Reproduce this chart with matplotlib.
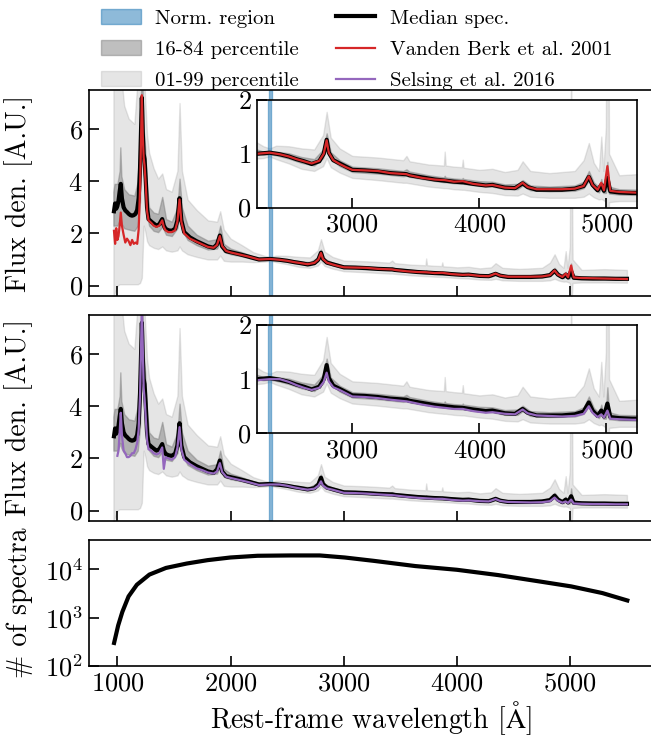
import numpy as np
import matplotlib
matplotlib.use("Agg")
import matplotlib.pyplot as plt

plt.rcParams['font.family'] = ['cmr10', 'DejaVu Serif']
plt.rcParams['mathtext.fontset'] = 'cm'
plt.rcParams['axes.formatter.use_mathtext'] = True
plt.rcParams['axes.unicode_minus'] = False

# ---------------- data ----------------
# median composite spectrum and literature composites (normalised at 2350 A)
wave = [970, 980, 990, 1000, 1010, 1020, 1030, 1040, 1055, 1070, 1085, 1100, 1115, 1130,
        1145, 1160, 1175, 1188, 1200, 1208, 1216, 1224, 1232, 1240, 1250, 1262, 1275,
        1300, 1320, 1345, 1370, 1396, 1410, 1425, 1450, 1480, 1510, 1530, 1549, 1565,
        1590, 1640, 1700, 1750, 1800, 1850, 1880, 1905, 1925, 1960, 2000, 2080, 2150,
        2250, 2350, 2430, 2500, 2560, 2620, 2680, 2740, 2775, 2798, 2815, 2850, 2900,
        2950, 3000, 3100, 3200, 3300, 3426, 3450, 3550, 3650, 3727, 3800, 3869, 3950,
        4050, 4102, 4200, 4280, 4340, 4380, 4450, 4550, 4650, 4750, 4820, 4861, 4890,
        4930, 4959, 4980, 5007, 5030, 5100, 5200, 5300, 5400, 5500]
median_flux = [2.85, 3.15, 2.95, 3.05, 3.25, 3.6, 3.9, 3.35, 3.0, 2.88, 2.82, 2.75, 2.7, 2.68,
               2.7, 2.75, 2.9, 3.35, 4.5, 5.8, 7.2, 5.9, 5.05, 4.85, 4.1, 3.0, 2.55,
               2.45, 2.38, 2.3, 2.35, 2.55, 2.3, 2.18, 2.12, 2.1, 2.18, 2.5, 3.35, 2.5,
               2.05, 1.85, 1.7, 1.6, 1.5, 1.45, 1.58, 1.92, 1.5, 1.32, 1.28, 1.2, 1.12,
               1.0, 1.02, 0.99, 0.95, 0.9, 0.86, 0.81, 0.86, 1.0, 1.26, 1.02, 0.88, 0.82,
               0.76, 0.7, 0.69, 0.67, 0.64, 0.62, 0.6, 0.56, 0.52, 0.5, 0.48, 0.47, 0.44,
               0.41, 0.42, 0.37, 0.36, 0.45, 0.38, 0.33, 0.33, 0.33, 0.35, 0.4, 0.57, 0.42,
               0.32, 0.42, 0.31, 0.55, 0.3, 0.28, 0.27, 0.27, 0.26, 0.26]
vandenberk_flux = [2.1, 1.6, 2.2, 1.75, 1.9, 2.3, 2.8, 2.3, 1.95, 1.65, 1.8, 1.7, 1.55, 1.75,
                   1.6, 1.65, 1.6, 2.15, 3.7, 5.4, 7.3, 5.8, 4.9, 4.6, 3.9, 2.85, 2.5,
                   2.4, 2.3, 2.25, 2.3, 2.5, 2.25, 2.12, 2.05, 2.05, 2.12, 2.45, 3.3, 2.45,
                   2.0, 1.8, 1.68, 1.58, 1.48, 1.45, 1.56, 1.9, 1.52, 1.33, 1.27, 1.19, 1.12,
                   1.0, 1.02, 0.99, 0.95, 0.9, 0.86, 0.82, 0.87, 1.0, 1.25, 1.02, 0.88, 0.81,
                   0.75, 0.7, 0.69, 0.68, 0.64, 0.62, 0.6, 0.55, 0.52, 0.51, 0.48, 0.49, 0.44,
                   0.41, 0.42, 0.37, 0.36, 0.46, 0.38, 0.34, 0.34, 0.34, 0.35, 0.4, 0.58, 0.42,
                   0.33, 0.46, 0.32, 0.77, 0.31, 0.29, 0.28, 0.27, 0.26, 0.25]
selsing_flux = [np.nan, np.nan, np.nan, 2.1, 2.3, 3.0, 3.75, 2.9, 2.3, 2.2, 2.05, 2.05, 2.1, 2.2,
                2.2, 2.35, 2.6, 3.1, 4.4, 6.0, 7.9, 6.3, 4.7, 4.3, 3.6, 2.7, 2.35,
                2.3, 2.2, 2.15, 2.2, 2.42, 1.6, 2.05, 2.0, 1.95, 2.05, 2.4, 3.2, 2.35,
                1.95, 1.78, 1.62, 1.55, 1.46, 1.42, 1.5, 1.82, 1.48, 1.3, 1.25, 1.17, 1.1,
                0.98, 1.0, 1.0, 0.95, 0.89, 0.84, 0.8, 0.84, 0.95, 1.12, 0.96, 0.85, 0.8,
                0.74, 0.68, 0.67, 0.65, 0.62, 0.59, 0.58, 0.53, 0.49, 0.47, 0.45, 0.45, 0.41,
                0.38, 0.39, 0.36, 0.35, 0.44, 0.37, 0.33, 0.32, 0.31, 0.32, 0.36, 0.5, 0.38,
                0.3, 0.35, 0.29, 0.42, 0.27, 0.26, 0.25, 0.25, 0.24, 0.24]

# percentile envelopes of the stacked spectra
band_wave = [965, 975, 1000, 1020, 1026, 1035, 1060, 1100, 1150, 1180, 1200, 1216, 1232,
             1245, 1262, 1280, 1320, 1360, 1396, 1430, 1480, 1530, 1549, 1570, 1620, 1700,
             1800, 1880, 1908, 1940, 2000, 2100, 2200, 2300, 2350, 2400, 2500, 2600, 2700,
             2770, 2798, 2830, 2900, 3000, 3200, 3400, 3426, 3450, 3600, 3720, 3727, 3735,
             3800, 3862, 3869, 3876, 4000, 4102, 4200, 4300, 4340, 4400, 4550, 4750, 4820,
             4861, 4900, 4940, 4959, 4975, 4995, 5007, 5020, 5100, 5300, 5500]
p01 = [-0.5, -0.3, 0.0, 0.05, 0.05, 0.05, 0.05, 0.05, 0.05, 0.05, 0.1, 0.3, 2.3,
       2.1, 1.7, 1.55, 1.45, 1.4, 1.5, 1.35, 1.3, 1.35, 1.5, 1.35, 1.2, 1.1,
       1.0, 1.0, 1.15, 0.95, 0.92, 0.92, 0.9, 0.92, 0.95, 0.9, 0.82, 0.72, 0.68,
       0.77, 0.92, 0.75, 0.65, 0.55, 0.51, 0.46, 0.46, 0.45, 0.39, 0.36, 0.36, 0.36,
       0.34, 0.33, 0.33, 0.33, 0.29, 0.27, 0.23, 0.22, 0.26, 0.2, 0.18, 0.18, 0.2,
       0.26, 0.19, 0.15, 0.16, 0.14, 0.1, -1.0, 0.1, 0.12, 0.12, 0.11]
p16 = [2.3, 2.3, 2.3, 2.5, 2.6, 2.4, 2.2, 2.15, 2.1, 2.3, 3.2, 5.7, 4.3,
       3.85, 2.7, 2.3, 2.1, 2.05, 2.25, 1.95, 1.9, 2.2, 2.75, 2.15, 1.75, 1.55,
       1.38, 1.42, 1.7, 1.3, 1.2, 1.12, 1.01, 0.98, 0.99, 0.97, 0.91, 0.83, 0.78,
       0.92, 1.15, 0.9, 0.77, 0.66, 0.63, 0.58, 0.59, 0.57, 0.51, 0.47, 0.47, 0.47,
       0.45, 0.44, 0.45, 0.44, 0.4, 0.39, 0.34, 0.34, 0.41, 0.32, 0.3, 0.31, 0.36,
       0.5, 0.35, 0.28, 0.35, 0.27, 0.27, 0.4, 0.26, 0.24, 0.23, 0.22]
p84 = [3.6, 3.9, 3.9, 4.4, 5.3, 4.2, 3.7, 3.5, 3.45, 4.0, 6.0, 8.6, 6.0,
       5.3, 3.8, 3.0, 2.8, 2.75, 3.4, 2.55, 2.45, 3.0, 4.1, 3.0, 2.3, 1.95,
       1.72, 1.78, 2.3, 1.6, 1.42, 1.28, 1.12, 1.04, 1.05, 1.04, 1.01, 0.94, 0.9,
       1.08, 1.38, 1.03, 0.88, 0.76, 0.73, 0.68, 0.71, 0.67, 0.6, 0.56, 0.59, 0.56,
       0.54, 0.53, 0.55, 0.53, 0.49, 0.48, 0.43, 0.44, 0.51, 0.41, 0.39, 0.41, 0.48,
       0.68, 0.47, 0.38, 0.53, 0.37, 0.43, 0.85, 0.39, 0.34, 0.33, 0.32]
p99 = [9.0, 9.0, 9.0, 9.0, 9.0, 8.0, 6.9, 6.4, 6.2, 8.0, 9.0, 9.5, 8.5,
       7.2, 5.8, 5.1, 4.5, 4.1, 4.3, 3.7, 3.6, 4.4, 7.0, 4.4, 3.3, 2.9,
       2.5, 2.45, 2.85, 2.15, 1.8, 1.55, 1.28, 1.14, 1.1, 1.15, 1.14, 1.1, 1.08,
       1.35, 1.78, 1.3, 1.1, 0.96, 0.93, 0.88, 0.96, 0.86, 0.8, 0.78, 1.04, 0.78,
       0.76, 0.75, 0.89, 0.74, 0.7, 0.72, 0.66, 0.7, 0.86, 0.68, 0.64, 0.68, 0.88,
       1.2, 0.83, 0.68, 1.32, 0.68, 1.5, 9.0, 1.0, 0.6, 0.63, 0.6]

# number of spectra contributing to each wavelength
count_wave = [971, 1007, 1044, 1099, 1172, 1283, 1429, 1613, 1796, 1998, 2237, 2530,
              2787, 3007, 3264, 3631, 3998, 4365, 4732, 5007, 5283, 5503]
count_n = [300, 690, 1320, 2760, 4800, 7800, 10700, 13200, 15500, 17600, 19100, 19400,
           19400, 17600, 15000, 11700, 9800, 7600, 5600, 4440, 3230, 2270]

norm_region = (2335, 2362)

comparisons = [("Vanden Berk et al. 2001", vandenberk_flux, "#d62728"),
               ("Selsing et al. 2016", selsing_flux, "#9467bd")]

# ---------------- figure ----------------
W, H = 651, 738
fig = plt.figure(figsize=(W / 100, H / 100), dpi=100)


def frac(x0, y0, x1, y1):
    return [x0 / W, 1 - y1 / H, (x1 - x0) / W, (y1 - y0) / H]


TFS = 19   # tick labels
LFS = 20   # axis labels
YLAB_X = -0.098


def style(a):
    a.tick_params(direction='in', length=7, width=1.2, labelsize=TFS, pad=4)
    for s in a.spines.values():
        s.set_linewidth(1.2)


main_boxes = [frac(88.5, 90, 653, 296), frac(88.5, 315, 653, 521)]
inset_boxes = [frac(257, 100, 637, 207.5), frac(257, 325, 637, 433.3)]

handles = {}
for box, ibox, (lab, flux, col) in zip(main_boxes, inset_boxes, comparisons):
    ax = fig.add_axes(box)
    axin = fig.add_axes(ibox)
    for a in (ax, axin):
        h1 = a.fill_between(band_wave, p01, p99, color='grey', alpha=0.2,
                            label='01-99 percentile')
        h2 = a.fill_between(band_wave, p16, p84, color='grey', alpha=0.5,
                            label='16-84 percentile')
        h0 = a.axvspan(*norm_region, color='C0', alpha=0.5, label='Norm. region')
        hm, = a.plot(wave, median_flux, color='k', lw=3, label='Median spec.')
        hc, = a.plot(wave, flux, color=col, lw=1.6, label=lab)
        style(a)
    handles.update({'Norm. region': h0, '16-84 percentile': h2,
                    '01-99 percentile': h1, 'Median spec.': hm, lab: hc})
    ax.set_xlim(745, 5730)
    ax.set_ylim(-0.4, 7.5)
    ax.set_yticks([0, 2, 4, 6])
    ax.set_xticks([1000, 2000, 3000, 4000, 5000])
    ax.tick_params(labelbottom=False)
    ax.set_ylabel('Flux den. [A.U.]', fontsize=LFS)
    ax.yaxis.set_label_coords(YLAB_X, 0.5)
    axin.set_xlim(2250, 5240)
    axin.set_ylim(0, 2)
    axin.set_xticks([3000, 4000, 5000])
    axin.set_yticks([0, 1, 2])

# number of spectra
axn = fig.add_axes(frac(88.5, 540, 653, 666))
axn.plot(count_wave, count_n, color='k', lw=3)
axn.set_yscale('log')
axn.set_ylim(100, 4.05e4)
axn.set_xlim(745, 5730)
axn.set_xticks([1000, 2000, 3000, 4000, 5000])
axn.set_yticks([1e2, 1e3, 1e4])
axn.minorticks_off()
style(axn)
axn.set_ylabel('# of spectra', fontsize=LFS)
axn.yaxis.set_label_coords(YLAB_X, 0.5)
axn.set_xlabel(r'Rest-frame wavelength [$\mathrm{\AA}$]', fontsize=LFS, labelpad=3)

order = ['Norm. region', '16-84 percentile', '01-99 percentile',
         'Median spec.', 'Vanden Berk et al. 2001', 'Selsing et al. 2016']
fig.legend([handles[k] for k in order], order, loc='upper center',
           bbox_to_anchor=(0.548, 1.013), ncol=2, frameon=False, fontsize=15,
           labelspacing=0.6, columnspacing=1.75, handlelength=1.9, handletextpad=0.7)

fig.savefig('out.png', dpi=100)
